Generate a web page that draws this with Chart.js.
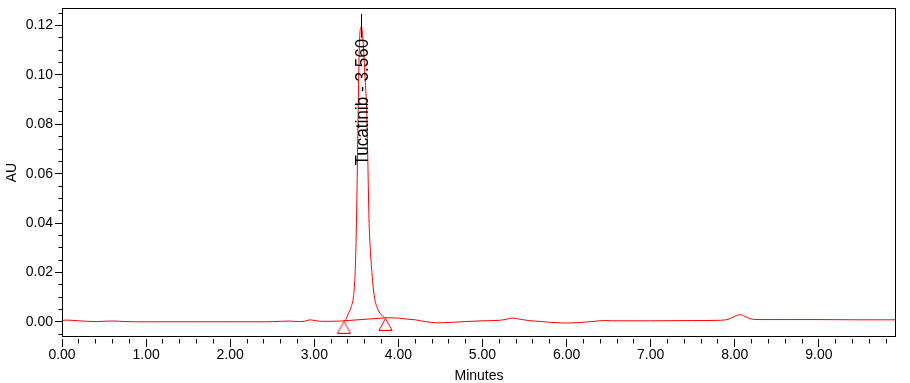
<!DOCTYPE html>
<html><head><meta charset="utf-8">
<script src="https://cdn.jsdelivr.net/npm/chart.js@4"></script>
<style>html,body{margin:0;padding:0;background:#fff;overflow:hidden}canvas{display:block}</style>
</head><body>
<canvas id="c" width="910" height="383"></canvas>
<script>
// Retention time (minutes)
const times = [
  0.00, 0.05, 0.12, 0.20, 0.30, 0.42, 0.55, 0.62, 0.75, 0.90,
  1.20, 1.60, 2.00, 2.40, 2.60, 2.70, 2.80, 2.88, 2.95, 3.02,
  3.10, 3.20, 3.30, 3.353, 3.38, 3.40, 3.44, 3.465, 3.48, 3.49,
  3.50, 3.51, 3.52, 3.535, 3.55, 3.56, 3.575, 3.59, 3.605, 3.62,
  3.635, 3.65, 3.665, 3.685, 3.70, 3.72, 3.75, 3.78, 3.81, 3.846,
  3.90, 4.00, 4.10, 4.20, 4.32, 4.45, 4.60, 4.80, 5.00, 5.20,
  5.28, 5.36, 5.45, 5.55, 5.70, 5.85, 6.00, 6.15, 6.30, 6.45,
  6.55, 6.80, 7.00, 7.50, 7.80, 7.92, 8.00, 8.06, 8.12, 8.20,
  8.30, 8.60, 9.00, 9.50, 9.917
];
// Detector response (AU)
const absorbance = [
  0.0005, 0.0007, 0.0006, 0.0004, 0.0002, 0.0001, 0.0003, 0.0003, 0.0001, 0.0000,
  0.0000, 0.0000, 0.0000, 0.0000, 0.0002, 0.0003, 0.0001, 0.0002, 0.0008, 0.0004,
  0.0002, 0.0002, 0.0003, 0.0004, 0.0012, 0.0030, 0.0062, 0.0100, 0.0160, 0.0240,
  0.0380, 0.0580, 0.0820, 0.1110, 0.1190, 0.1195, 0.1160, 0.1080, 0.0980, 0.0880,
  0.0680, 0.0420, 0.0300, 0.0200, 0.0140, 0.0090, 0.0055, 0.0035, 0.0024, 0.0016,
  0.0016, 0.0015, 0.0011, 0.0008, 0.0001, -0.0004, -0.0003, 0.0001, 0.0004, 0.0006,
  0.0010, 0.0015, 0.0010, 0.0005, 0.0001, -0.0003, -0.0005, -0.0003, 0.0001, 0.0005,
  0.0004, 0.0004, 0.0004, 0.0005, 0.0006, 0.0010, 0.0022, 0.0029, 0.0022, 0.0011,
  0.0009, 0.0009, 0.0009, 0.0008, 0.0008
];
// Integration baseline start / end (peak markers)
const integrationTimes = [3.353, 3.846];
const integrationValues = [0.0004, 0.0016];
// Peak annotation
const peakNames = ['Tucatinib - 3.560'];
const peakTimes = [3.56];
const peakApex = [0.1195];
// Tick labels
const xTickLabels = ['0.00','1.00','2.00','3.00','4.00','5.00','6.00','7.00','8.00','9.00'];
const yTickLabels = ['0.00','0.02','0.04','0.06','0.08','0.10','0.12'];

const X_MIN = 0, X_MAX = 9.917, Y_MIN = -0.00616, Y_MAX = 0.12713;
const FONT = '"Liberation Sans", Arial, sans-serif';

// hollow triangle marker whose apex sits on the data point
const tri = document.createElement('canvas');
tri.width = 15; tri.height = 26;
(function(){
  const c = tri.getContext('2d');
  c.strokeStyle = '#ff0000'; c.lineWidth = 1;
  c.beginPath();
  c.moveTo(7.5, 13.5); c.lineTo(1, 25.5); c.lineTo(14, 25.5); c.closePath();
  c.stroke();
})();

const decor = {
  id: 'decor',
  afterDatasetsDraw(chart) {
    const {ctx, chartArea: a, scales: {x, y}} = chart;
    ctx.save();
    ctx.strokeStyle = '#000'; ctx.lineWidth = 1;
    // frame
    ctx.strokeRect(a.left + 0.5, a.top + 0.5, a.right - a.left - 1, a.bottom - a.top - 1);
    // x ticks (major every 1, minor every 0.2)
    ctx.beginPath();
    for (let k = 0; k <= 60; k++) {
      const v = k * 0.2;
      if (v > X_MAX + 1e-9) break;
      const px = Math.floor(x.getPixelForValue(v)) + 0.5;
      const len = (k % 5 === 0) ? 8 : 4.5;
      ctx.moveTo(px, a.bottom + 2); ctx.lineTo(px, a.bottom + 2 + len);
    }
    // y ticks (major every 0.02, minor every 0.005)
    for (let k = -2; k <= 30; k++) {
      const v = k * 0.005;
      if (v < Y_MIN || v > Y_MAX) continue;
      const py = Math.floor(y.getPixelForValue(v)) + 0.5;
      const len = (k % 4 === 0) ? 7 : 3.5;
      ctx.moveTo(a.left - len, py); ctx.lineTo(a.left, py);
    }
    ctx.stroke();
    // peak labels
    for (let i = 0; i < peakNames.length; i++) {
      const px = x.getPixelForValue(peakTimes[i]);
      const ay = y.getPixelForValue(peakApex[i]);
      const lx = Math.floor(px) + 0.5;
      ctx.beginPath();
      ctx.moveTo(lx, ay - 13); ctx.lineTo(lx, ay + 11);
      ctx.stroke();
      ctx.save();
      ctx.translate(px + 7, ay + 12);
      ctx.rotate(-Math.PI / 2);
      ctx.scale(0.95, 1);
      ctx.font = '18px ' + FONT;
      ctx.fillStyle = '#000';
      ctx.textAlign = 'right';
      ctx.textBaseline = 'alphabetic';
      ctx.fillText(peakNames[i], 0, 0);
      ctx.restore();
    }
    ctx.restore();
  }
};

new Chart(document.getElementById('c'), {
  type: 'line',
  data: {
    datasets: [
      {
        data: times.map((t, i) => ({x: t, y: absorbance[i]})),
        borderColor: '#ff0000',
        borderWidth: 1,
        pointRadius: 0,
        cubicInterpolationMode: 'monotone',
        fill: false
      },
      {
        data: integrationTimes.map((t, i) => ({x: t, y: integrationValues[i]})),
        borderColor: '#ff0000',
        borderWidth: 1,
        pointStyle: tri,
        pointRadius: 7,
        pointHoverRadius: 7,
        showLine: true,
        fill: false,
        clip: false
      }
    ]
  },
  options: {
    responsive: false,
    animation: false,
    devicePixelRatio: 1,
    events: [],
    layout: {padding: {top: 6, right: 14, left: 0, bottom: 0}},
    plugins: {legend: {display: false}, tooltip: {enabled: false}},
    scales: {
      x: {
        type: 'linear',
        min: X_MIN, max: X_MAX,
        border: {display: false},
        grid: {display: false, drawTicks: true, tickLength: 10},
        ticks: {
          stepSize: 1, includeBounds: false, autoSkip: false, maxRotation: 0,
          padding: 0, color: '#000', font: {family: FONT, size: 14},
          callback: (v) => { const i = Math.round(v); return Math.abs(v - i) < 1e-6 && xTickLabels[i] !== undefined ? xTickLabels[i] : ''; }
        },
        title: {display: true, text: 'Minutes', color: '#000', font: {family: FONT, size: 14, lineHeight: 1}, padding: {top: 0, bottom: 0}},
        afterFit: (s) => { s.height = 46; s.paddingLeft = 0; s.paddingRight = 0; }
      },
      y: {
        type: 'linear',
        min: Y_MIN, max: Y_MAX,
        border: {display: false},
        grid: {display: false, drawTicks: true, tickLength: 7},
        ticks: {
          stepSize: 0.02, includeBounds: false, autoSkip: false,
          padding: 2, color: '#000', font: {family: FONT, size: 14},
          callback: (v) => { const i = Math.round(v / 0.02); return Math.abs(v - i * 0.02) < 1e-7 && yTickLabels[i] !== undefined ? yTickLabels[i] : ''; }
        },
        title: {display: true, text: 'AU', color: '#000', font: {family: FONT, size: 14, lineHeight: 1.2}, padding: {top: 4, bottom: 0}},
        afterFit: (s) => { s.width = 62; s.paddingTop = 0; s.paddingBottom = 0; }
      }
    }
  },
  plugins: [decor]
});
</script>
</body></html>
